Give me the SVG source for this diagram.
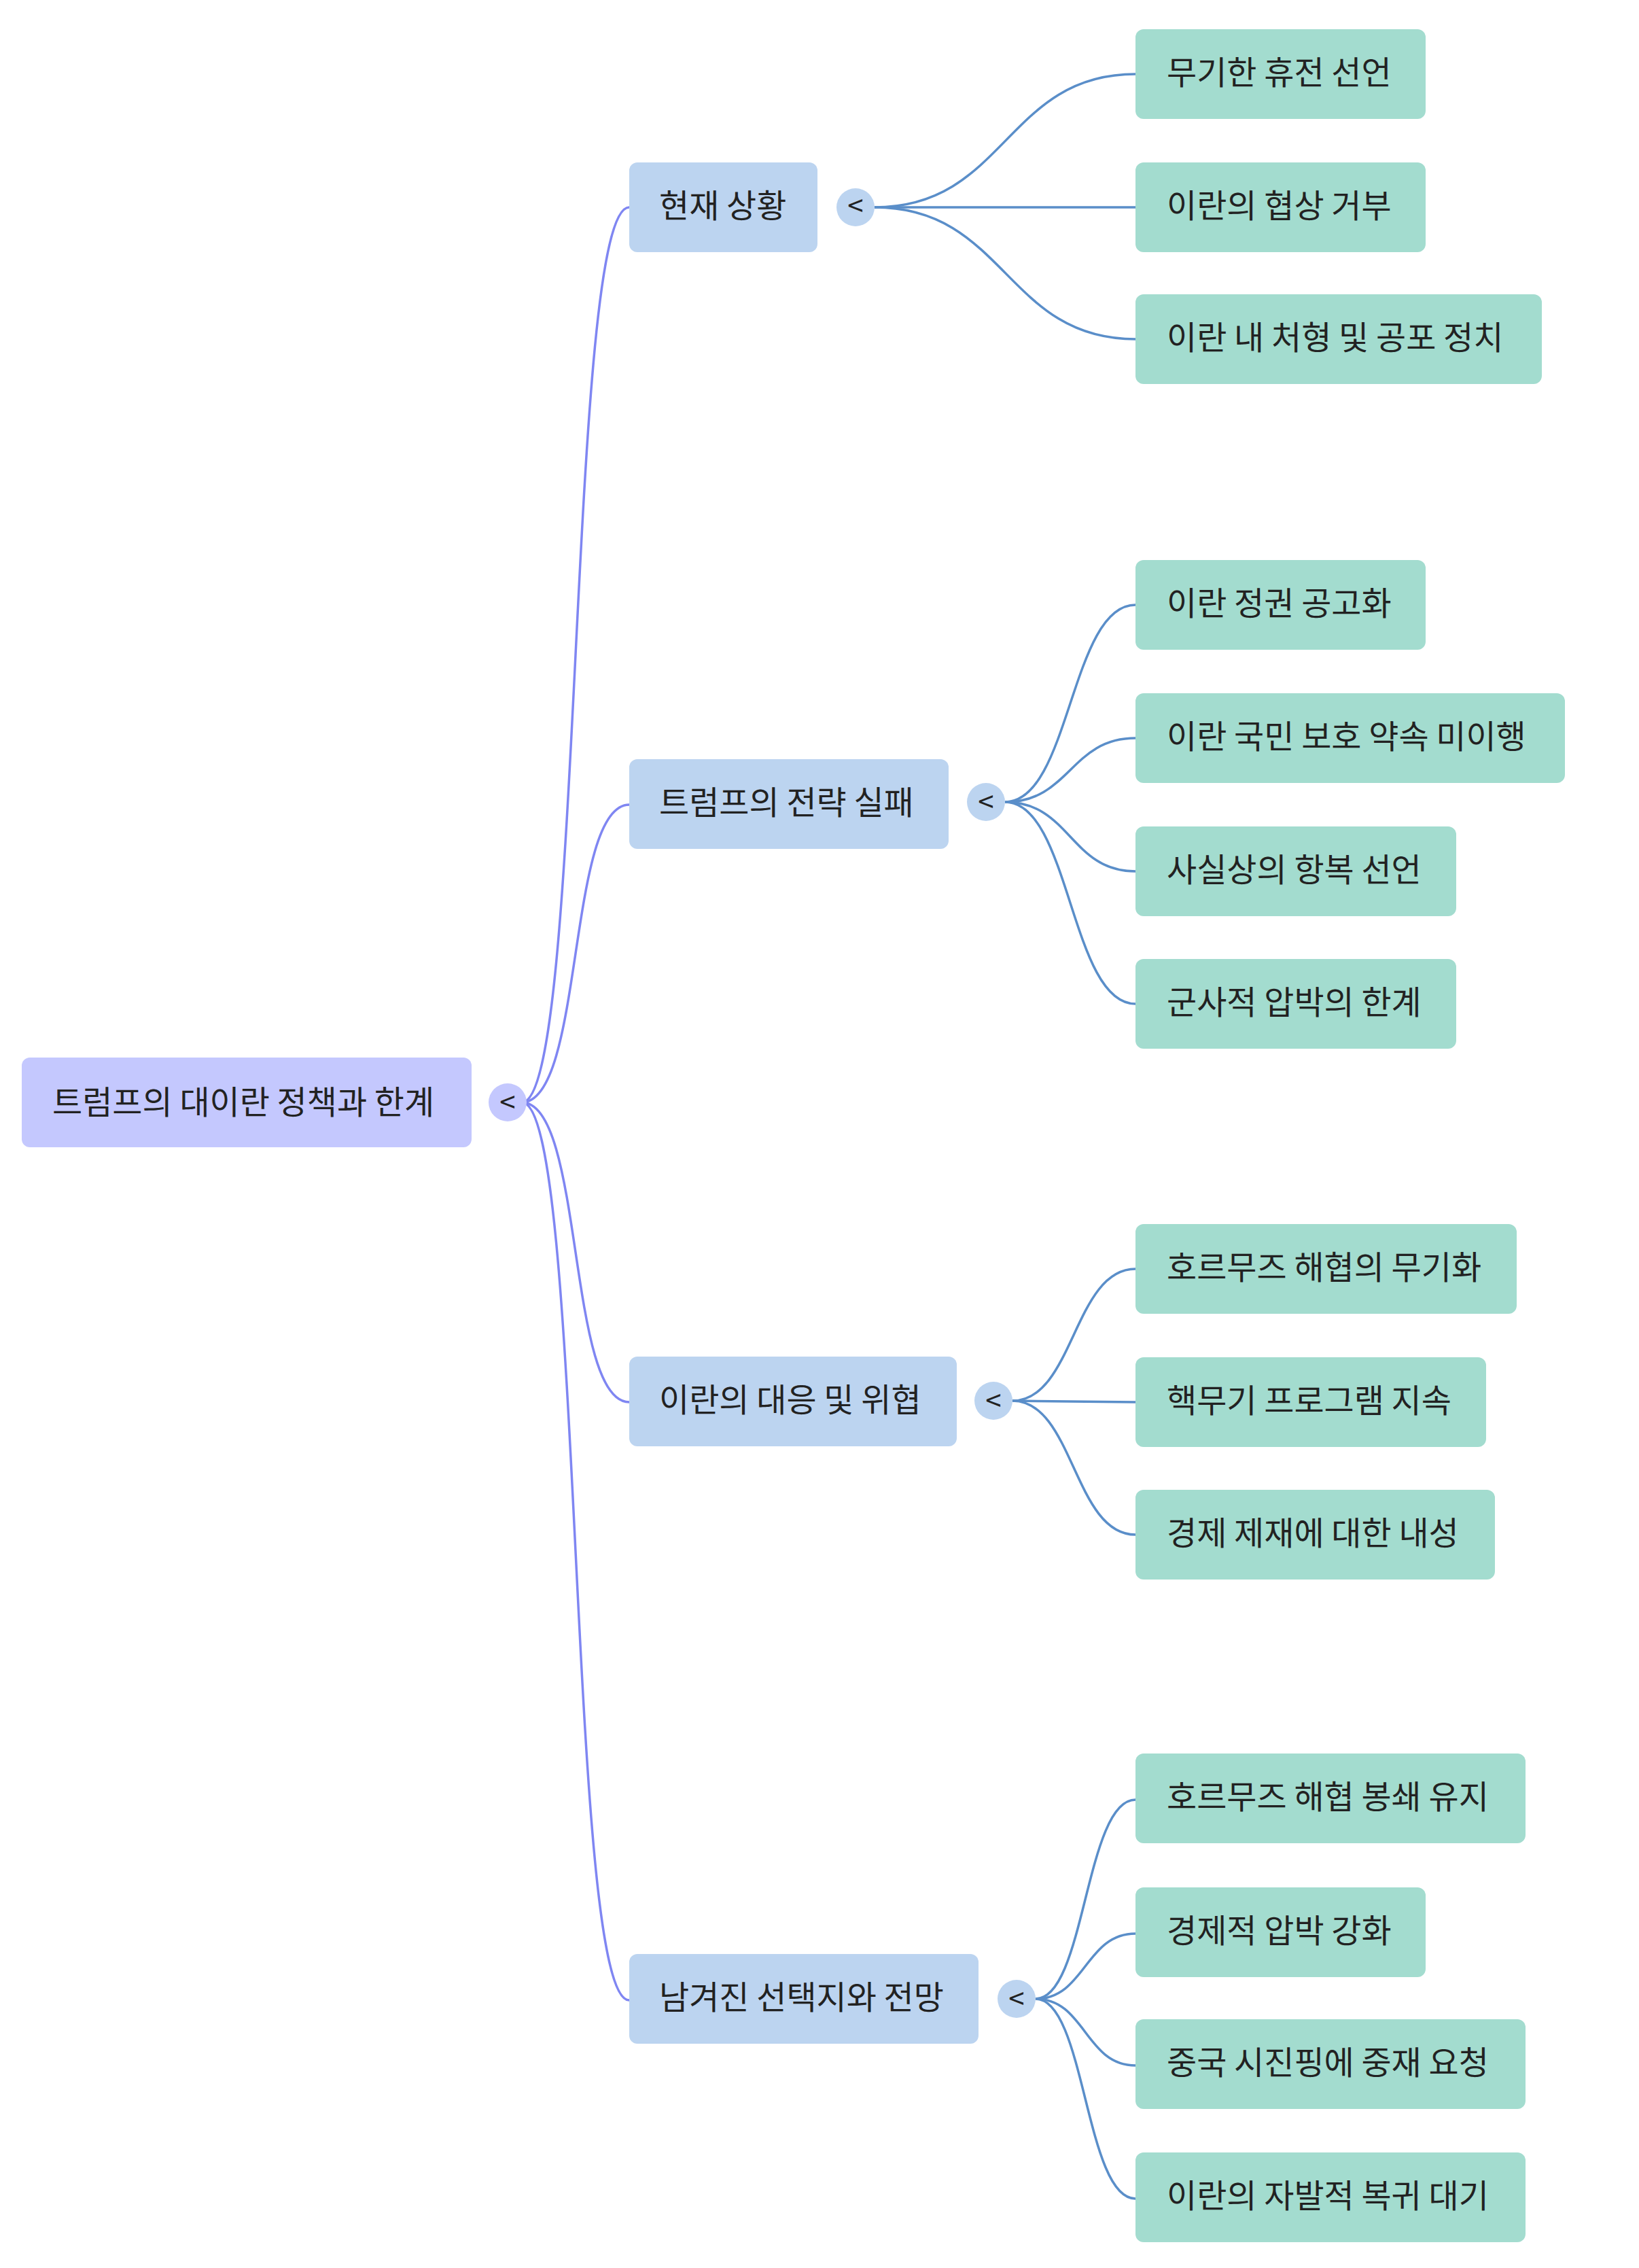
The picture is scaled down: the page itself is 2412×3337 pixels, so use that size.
<svg xmlns="http://www.w3.org/2000/svg" width="2412" height="3337" viewBox="0 0 2412 3337">
<style>
text{font-family:"Noto Sans CJK KR","Noto Sans",sans-serif;font-size:48px;fill:#222;dominant-baseline:central}
.root rect{fill:#c4c8fe}
.l1 rect{fill:#bcd4f0}
.leaf rect{fill:#a3dccf}
.c{fill:#bcd4f0}
.cr{fill:#c4c8fe}
.ct{font-size:42px;text-anchor:middle}
.e0{fill:none;stroke:#7f86f2;stroke-width:3.5}
.e1{fill:none;stroke:#5a8ec9;stroke-width:3.5}
</style>
<g id="connectors">
<path class="e0" d="M768 1622 C860 1622,834 305,926 305"/>
<path class="e0" d="M768 1622 C860 1622,834 1184,926 1184"/>
<path class="e0" d="M768 1622 C860 1622,834 2063,926 2063"/>
<path class="e0" d="M768 1622 C860 1622,834 2943,926 2943"/>
<path class="e1" d="M1287 305 C1480 305,1480 109,1671 109"/>
<path class="e1" d="M1287 305 L1671 305"/>
<path class="e1" d="M1287 305 C1480 305,1480 499,1671 499"/>
<path class="e1" d="M1479 1180 C1575 1180,1575 890,1671 890"/>
<path class="e1" d="M1479 1180 C1575 1180,1575 1086,1671 1086"/>
<path class="e1" d="M1479 1180 C1575 1180,1575 1282,1671 1282"/>
<path class="e1" d="M1479 1180 C1575 1180,1575 1477,1671 1477"/>
<path class="e1" d="M1490 2061 C1580 2061,1580 1867,1671 1867"/>
<path class="e1" d="M1490 2061 L1671 2063"/>
<path class="e1" d="M1490 2061 C1580 2061,1580 2258,1671 2258"/>
<path class="e1" d="M1524 2941 C1597 2941,1597 2648,1671 2648"/>
<path class="e1" d="M1524 2941 C1597 2941,1597 2845,1671 2845"/>
<path class="e1" d="M1524 2941 C1597 2941,1597 3039,1671 3039"/>
<path class="e1" d="M1524 2941 C1597 2941,1597 3235,1671 3235"/>
</g>
<g id="root" class="root"><rect x="32" y="1556" width="662" height="132" rx="12"/><text x="77" y="1618">트럼프의 대이란 정책과 한계</text><circle class="cr" cx="747" cy="1622" r="28"/><text class="ct" x="747" y="1618">&lt;</text></g>
<g id="n1" class="l1"><rect x="926" y="239" width="277" height="132" rx="12"/><text x="970" y="299">현재 상황</text><circle class="c" cx="1259" cy="305" r="28"/><text class="ct" x="1259" y="299">&lt;</text></g>
<g id="n2" class="l1"><rect x="926" y="1117" width="470" height="132" rx="12"/><text x="970" y="1177">트럼프의 전략 실패</text><circle class="c" cx="1451" cy="1180" r="28"/><text class="ct" x="1451" y="1176">&lt;</text></g>
<g id="n3" class="l1"><rect x="926" y="1996" width="482" height="132" rx="12"/><text x="970" y="2056">이란의 대응 및 위협</text><circle class="c" cx="1462" cy="2061" r="28"/><text class="ct" x="1462" y="2057">&lt;</text></g>
<g id="n4" class="l1"><rect x="926" y="2875" width="514" height="132" rx="12"/><text x="970" y="2935">남겨진 선택지와 전망</text><circle class="c" cx="1496" cy="2941" r="28"/><text class="ct" x="1496" y="2937">&lt;</text></g>
<g id="l1a" class="leaf"><rect x="1671" y="43" width="427" height="132" rx="12"/><text x="1717" y="103">무기한 휴전 선언</text></g>
<g id="l1b" class="leaf"><rect x="1671" y="239" width="427" height="132" rx="12"/><text x="1717" y="299">이란의 협상 거부</text></g>
<g id="l1c" class="leaf"><rect x="1671" y="433" width="598" height="132" rx="12"/><text x="1717" y="493">이란 내 처형 및 공포 정치</text></g>
<g id="l2a" class="leaf"><rect x="1671" y="824" width="427" height="132" rx="12"/><text x="1717" y="884">이란 정권 공고화</text></g>
<g id="l2b" class="leaf"><rect x="1671" y="1020" width="632" height="132" rx="12"/><text x="1717" y="1080">이란 국민 보호 약속 미이행</text></g>
<g id="l2c" class="leaf"><rect x="1671" y="1216" width="472" height="132" rx="12"/><text x="1717" y="1276">사실상의 항복 선언</text></g>
<g id="l2d" class="leaf"><rect x="1671" y="1411" width="472" height="132" rx="12"/><text x="1717" y="1471">군사적 압박의 한계</text></g>
<g id="l3a" class="leaf"><rect x="1671" y="1801" width="561" height="132" rx="12"/><text x="1717" y="1861">호르무즈 해협의 무기화</text></g>
<g id="l3b" class="leaf"><rect x="1671" y="1997" width="516" height="132" rx="12"/><text x="1717" y="2057">핵무기 프로그램 지속</text></g>
<g id="l3c" class="leaf"><rect x="1671" y="2192" width="529" height="132" rx="12"/><text x="1717" y="2252">경제 제재에 대한 내성</text></g>
<g id="l4a" class="leaf"><rect x="1671" y="2580" width="574" height="132" rx="12"/><text x="1717" y="2640">호르무즈 해협 봉쇄 유지</text></g>
<g id="l4b" class="leaf"><rect x="1671" y="2777" width="427" height="132" rx="12"/><text x="1717" y="2837">경제적 압박 강화</text></g>
<g id="l4c" class="leaf"><rect x="1671" y="2971" width="574" height="132" rx="12"/><text x="1717" y="3031">중국 시진핑에 중재 요청</text></g>
<g id="l4d" class="leaf"><rect x="1671" y="3167" width="574" height="132" rx="12"/><text x="1717" y="3227">이란의 자발적 복귀 대기</text></g>
</svg>
